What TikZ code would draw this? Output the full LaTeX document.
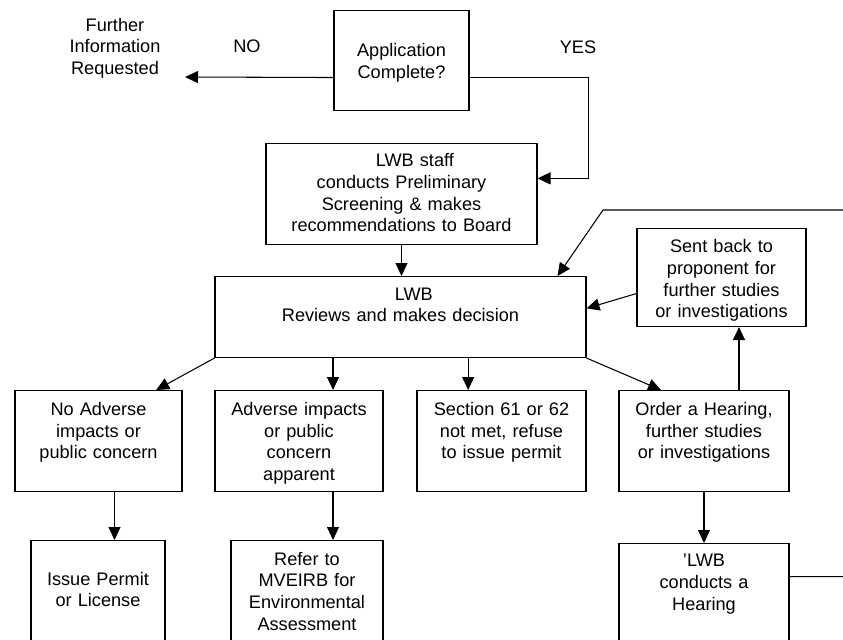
\documentclass[tikz,border=0pt]{standalone}
\usepackage{fontspec}
\setmainfont{Liberation Sans}
\usetikzlibrary{arrows.meta}

\begin{document}
\begin{tikzpicture}[x=0.03cm, y=-0.03cm, line width=0.9pt,
    font=\fontsize{15.5}{18.5}\selectfont,
    box/.style={draw, anchor=north, align=center, inner xsep=0pt, inner ysep=0pt},
    arr/.style={-{Triangle[length=0.39cm, width=0.36cm]}}]

    \useasboundingbox (0,0) rectangle (843,639);
    \clip (0,0) rectangle (843,639);

    \node[align=center] (further) at (115,48) {Further\\Information\\Requested};
    \node (no) at (247,46) {NO};
    \node (yes) at (578,47) {YES};
    \coordinate (noend) at (185,77);
    \coordinate (bend) at (603,210);

    \node[box, text width=4.05cm, text height=1.39cm, text depth=1.61cm] (app) at (401.5,10)
        {Application\\Complete?};
    \node[box, text width=8.13cm, text height=0.70cm, text depth=2.33cm] (staff) at (401.5,143)
        {\hspace*{0.8cm}LWB staff\\conducts Preliminary\\Screening \& makes\\recommendations to Board};
    \node[box, text width=11.13cm, text height=0.71cm, text depth=1.72cm] (lwb) at (400.5,276)
        {\hspace*{0.8cm}LWB\\Reviews and makes decision};
    \node[box, text width=5.07cm, text height=0.73cm, text depth=2.21cm] (sent) at (721.5,228)
        {Sent back to\\proponent for\\further studies\\or investigations};

    \node[box, text width=5.01cm, text height=0.75cm, text depth=2.28cm] (noadv) at (98.5,390)
        {No Adverse\\impacts or\\public concern};
    \node[box, text width=5.04cm, text height=0.75cm, text depth=2.28cm] (adv) at (299,390)
        {Adverse impacts\\or public\\concern\\apparent};
    \node[box, text width=5.07cm, text height=0.75cm, text depth=2.28cm] (sec) at (501.5,390)
        {Section 61 or 62\\not met, refuse\\to issue permit};
    \node[box, text width=5.1cm, text height=0.75cm, text depth=2.28cm] (order) at (704,390)
        {Order a Hearing,\\further studies\\or investigations};

    \node[box, text width=4.02cm, text height=1.34cm, text depth=2.27cm] (issue) at (98,540)
        {Issue Permit\\or License};
    \node[box, text width=4.56cm, text height=0.74cm, text depth=2.87cm] (refer) at (307,540)
        {Refer to\\MVEIRB for\\Environmental\\Assessment};
    \node[box, text width=5.1cm, text height=0.70cm, text depth=2.82cm] (hearing) at (704,543)
        {'LWB\\conducts a\\Hearing};

    \draw[arr] ([yshift=-0.51cm]app.west) -- (noend);
    \draw[arr] ([yshift=-0.51cm]app.east) -- ++(3.57cm,0) |- ([yshift=0.47cm]staff.east);
    \draw[arr] (staff.south) -- (staff.south |- lwb.north);
    \draw[arr] ([yshift=-0.48cm]sent.west) -- ([yshift=0.26cm]lwb.east);
    \draw[arr] ([yshift=0.77cm]hearing.east) -- ++(3cm,0) |- (bend) -- ([xshift=-0.87cm]lwb.north east);

    \draw[arr] (lwb.south west) -- ([xshift=1.73cm]noadv.north);
    \draw[arr] ([xshift=1.02cm]adv.north |- lwb.south) -- ([xshift=1.02cm]adv.north);
    \draw[arr] ([xshift=-1.0cm]sec.north |- lwb.south) -- ([xshift=-1.0cm]sec.north);
    \draw[arr] (lwb.south east) -- ([xshift=-1.29cm]order.north);
    \draw[arr] ([xshift=1.05cm]order.north) -- ([xshift=1.05cm]order.north |- sent.south);

    \draw[arr] ([xshift=0.48cm]noadv.south) -- ([xshift=0.48cm]noadv.south |- issue.north);
    \draw[arr] ([xshift=1.02cm]adv.south) -- ([xshift=1.02cm]adv.south |- refer.north);
    \draw[arr] (order.south) -- (order.south |- hearing.north);

\end{tikzpicture}
\end{document}
